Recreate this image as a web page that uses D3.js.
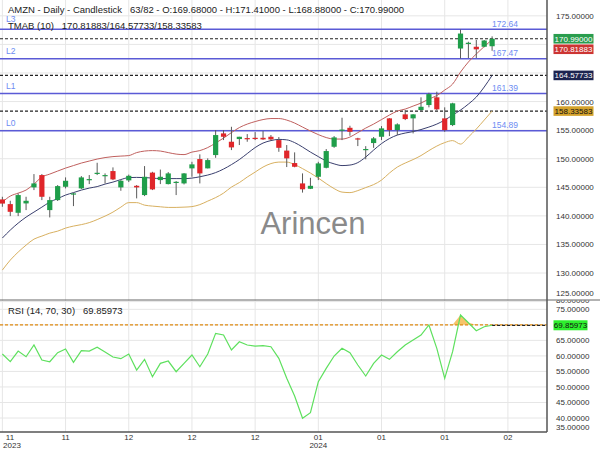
<!DOCTYPE html>
<html>
<head>
<meta charset="utf-8">
<script src="https://cdn.jsdelivr.net/npm/d3@7/dist/d3.min.js"></script>
<style>
  body { margin: 0; background: #fff; }
  text { font-family: "Liberation Sans", Arial, sans-serif; white-space: pre; }
</style>
</head>
<body>
<script>
// daily candles, index 0 = 2023-11-08
var opens  = [142.88,142.06,140.54,142.18,144.98,147.14,141.01,142.76,145.09,143.81,144.81,146.35,147.43,146.96,147.84,144.98,146.21,145.26,143.64,147.57,146.26,145.56,145.86,145.68,148.31,149.94,148.31,150.64,154.43,152.97,153.44,153.61,153.66,153.66,153.84,153.26,151.42,149.24,145.68,144.74,146.84,148.41,152.09,154.93,155.41,153.56,151.50,152.74,153.84,157.06,155.01,157.76,157.06,158.51,159.39,160.74,157.06,155.89,169.28,170.07,169.59,169.59,169.68];
var highs  = [143.34,142.64,143.93,143.34,147.31,147.31,143.34,145.39,146.73,144.04,146.96,147.14,149.29,147.43,148.48,146.26,147.22,145.39,148.71,147.71,148.10,147.66,146.09,147.49,149.46,150.76,150.06,155.01,155.01,155.59,153.84,154.31,154.66,154.84,154.14,153.79,152.39,151.11,147.43,146.66,149.46,151.69,153.96,157.17,155.77,153.66,152.20,153.80,155.71,157.10,156.19,158.51,157.80,160.74,161.54,161.72,158.99,159.79,172.60,170.47,170.77,170.77,171.41];
var lows   = [141.59,139.96,139.96,141.01,144.51,142.76,139.73,142.60,144.81,141.71,144.70,145.56,147.14,145.68,146.26,144.39,145.91,143.06,143.46,144.51,145.56,145.50,143.64,145.50,146.84,145.68,148.30,150.16,153.26,151.51,152.39,152.97,153.26,153.30,153.17,151.21,148.54,148.50,144.07,144.69,146.26,148.31,151.91,153.26,154.02,152.21,149.90,151.90,153.26,153.96,154.14,156.76,154.43,158.22,158.99,158.51,154.71,155.71,167.53,167.62,167.62,169.50,168.88];
var closes = [142.15,140.71,143.64,142.64,145.68,143.34,142.76,145.21,146.14,143.93,146.73,146.44,147.54,147.14,146.38,146.14,147.01,144.98,146.84,144.63,146.84,147.43,145.96,147.43,149.01,147.43,149.76,154.14,153.84,151.98,153.84,153.51,153.44,153.38,153.38,151.91,150.06,148.59,144.65,145.26,149.18,151.34,153.73,155.10,154.71,153.38,151.70,153.56,155.31,155.01,156.01,156.94,157.76,159.09,161.31,158.64,155.01,159.69,171.90,170.29,169.14,170.68,170.99];

// TMAB (10) bands
var tmabUpper = [142.41,143.46,143.98,144.51,145.56,146.79,147.31,147.84,148.36,148.80,149.24,149.59,149.94,150.20,150.37,150.46,150.55,151.07,151.34,151.42,151.34,151.07,150.81,150.72,151.16,151.42,151.95,152.74,153.61,154.57,155.45,156.06,156.50,156.85,157.03,157.03,156.76,156.24,155.54,154.84,154.22,153.70,153.44,153.44,153.79,154.57,155.36,156.06,156.85,157.64,158.34,158.69,159.21,159.74,160.44,161.05,162.01,163.06,165.16,166.92,168.32,169.63,170.82];
var tmabMid   = [136.12,137.51,138.73,139.78,140.66,141.53,142.41,143.02,143.64,144.07,144.51,144.86,145.12,145.56,145.91,146.35,146.70,146.73,146.70,146.61,146.52,146.52,146.52,146.52,146.61,146.84,147.14,147.57,148.19,148.97,149.85,150.90,151.95,152.74,153.17,153.38,153.30,152.82,152.04,151.16,150.37,149.59,149.10,148.80,148.89,149.32,150.29,151.51,152.65,153.52,154.14,154.49,154.75,155.10,155.54,156.06,156.76,157.64,158.51,159.56,160.79,162.54,164.58];
var tmabLower = [130.51,132.26,133.66,134.88,135.93,136.46,136.98,137.33,137.86,138.21,138.47,138.82,139.35,139.96,140.66,141.53,142.32,142.32,141.88,141.71,141.59,141.48,141.48,141.53,141.62,141.97,142.58,143.20,143.98,145.04,145.82,146.79,147.66,148.54,149.15,149.41,149.41,148.97,148.27,147.49,146.61,145.65,144.77,144.16,144.07,144.42,144.95,145.47,146.26,147.49,148.54,149.24,149.85,150.55,151.42,152.21,152.82,153.17,152.56,153.79,155.19,156.76,158.34];

// RSI (14, 70, 30)
var rsi = [60.61,58.13,61.57,59.74,63.51,58.68,58.13,61.03,62.22,57.94,61.67,61.57,62.77,61.25,59.64,59.10,60.61,55.46,58.90,53.30,57.61,58.35,54.91,57.61,60.29,56.52,60.61,67.27,66.73,61.90,64.57,63.51,63.18,63.28,62.96,59.22,52.78,47.09,39.91,41.71,51.69,56.00,59.96,62.44,61.03,57.07,53.53,57.61,60.29,58.90,61.35,63.51,65.12,66.73,69.95,62.44,52.78,61.35,73.16,70.69,68.11,69.40,69.86];

var levelNames  = ["L0", "L1", "L2", "L3"];
var levelValues = [154.89, 161.39, 167.47, 172.64];

var tmabLast   = [170.81883, 164.57733, 158.33583];
var dashValues = [170.99, 164.57733, 158.33583];
var boxValues  = [170.99, 170.81883, 164.57733, 158.33583];
var rsiLast = 69.85973;

var tickIdx    = [0, 8, 16, 24, 32, 40, 48, 56, 64];
var tickLabels = ["11", "11", "12", "12", "12", "01", "01", "01", "02"];
var yearIdx    = [0, 40];
var yearLabels = ["2023", "2024"];

var priceTicks = d3.range(125, 180, 5);
var rsiTicks   = d3.range(35, 85, 5);

var W = 600, H = 450, plotR = 547, mainB = 300, rsiB = 432;

var svg = d3.select("body").append("svg").attr("width", W).attr("height", H);

var x  = d3.scaleLinear().domain([-0.3, 68.95]).range([0, plotR]);
var y  = d3.scaleLinear().domain([125.28, 177.77]).range([mainB, 0]);
var yr = d3.scaleLinear().domain([35.5, 78.0]).range([rsiB, mainB]);

var defs = svg.append("defs");
defs.append("clipPath").attr("id", "cm").append("rect").attr("x", 0).attr("y", 0).attr("width", plotR).attr("height", mainB);
defs.append("clipPath").attr("id", "cr").append("rect").attr("x", 0).attr("y", mainB).attr("width", plotR).attr("height", rsiB - mainB);
defs.append("clipPath").attr("id", "clab").append("rect").attr("x", plotR).attr("y", mainB + 0.5).attr("width", W - plotR).attr("height", H);

// grid
var grid = svg.append("g").attr("stroke", "#e6e6e6").attr("stroke-width", 1);
grid.selectAll(".vg").data(tickIdx).enter().append("line")
  .attr("x1", function(d) { return x(d); }).attr("x2", function(d) { return x(d); })
  .attr("y1", 0).attr("y2", rsiB);
grid.selectAll(".hg").data(priceTicks).enter().append("line")
  .attr("x1", 0).attr("x2", plotR)
  .attr("y1", function(d) { return y(d); }).attr("y2", function(d) { return y(d); });
grid.selectAll(".rg").data(rsiTicks.filter(function(d) { return yr(d) > mainB && yr(d) < rsiB; })).enter().append("line")
  .attr("x1", 0).attr("x2", plotR)
  .attr("y1", function(d) { return yr(d); }).attr("y2", function(d) { return yr(d); });

var main = svg.append("g").attr("clip-path", "url(#cm)");

// watermark
main.append("text").attr("x", 313).attr("y", 234).attr("text-anchor", "middle")
  .attr("font-size", 31).attr("fill", "#8a8a8a").text("Arincen");

// levels
main.selectAll(".lv").data(levelValues).enter().append("line")
  .attr("x1", 0).attr("x2", plotR)
  .attr("y1", function(d) { return y(d); }).attr("y2", function(d) { return y(d); })
  .attr("stroke", "#5a5ad6").attr("stroke-width", 1.5);
main.selectAll(".lvn").data(levelNames).enter().append("text")
  .attr("x", 6).attr("y", function(d, i) { return y(levelValues[i]) - (i == 3 ? 7 : 5); })
  .attr("font-size", 8.5).attr("fill", "#6d8cf2").text(function(d) { return d; });
main.selectAll(".lvv").data(levelValues).enter().append("text")
  .attr("x", 492).attr("y", function(d) { return y(d) - 2.5; })
  .attr("font-size", 8.5).attr("fill", "#6d8cf2").text(function(d) { return d.toFixed(2); });

// dashed value lines
main.selectAll(".dl").data(dashValues).enter().append("line")
  .attr("x1", 0).attr("x2", plotR)
  .attr("y1", function(d) { return y(d); }).attr("y2", function(d) { return y(d); })
  .attr("stroke", "#222").attr("stroke-width", 1.2).attr("stroke-dasharray", "3,2");

// bands
function bandLine(arr) {
  return d3.line().x(function(d, i) { return x(i); }).y(function(d) { return y(d); }).curve(d3.curveMonotoneX)(arr);
}
main.append("path").attr("d", bandLine(tmabUpper)).attr("fill", "none").attr("stroke", "#c0605e").attr("stroke-width", 1);
main.append("path").attr("d", bandLine(tmabMid)).attr("fill", "none").attr("stroke", "#3a3f6e").attr("stroke-width", 1);
main.append("path").attr("d", bandLine(tmabLower)).attr("fill", "none").attr("stroke", "#d8b060").attr("stroke-width", 1);

// candles
var candles = main.selectAll(".c").data(closes).enter().append("g");
candles.append("line")
  .attr("x1", function(d, i) { return x(i); }).attr("x2", function(d, i) { return x(i); })
  .attr("y1", function(d, i) { return y(highs[i]); }).attr("y2", function(d, i) { return y(lows[i]); })
  .attr("stroke", "#5a5a5a").attr("stroke-width", 1);
candles.append("rect")
  .attr("x", function(d, i) { return x(i) - 2.6; }).attr("width", 5.2)
  .attr("y", function(d, i) { return y(Math.max(opens[i], d)); })
  .attr("height", function(d, i) { return Math.max(1.2, Math.abs(y(opens[i]) - y(d))); })
  .attr("fill", function(d, i) { return d >= opens[i] ? "#1f9e4a" : "#e0262a"; });

// RSI panel
var rp = svg.append("g").attr("clip-path", "url(#cr)");
var overArea = d3.area().x(function(d, i) { return x(i); })
  .y0(function(d) { return yr(70); })
  .y1(function(d) { return yr(Math.max(70, d)); });
rp.append("path").attr("d", overArea(rsi)).attr("fill", "#f6c46a").attr("stroke", "none");
rp.append("line").attr("x1", 0).attr("x2", plotR).attr("y1", yr(70)).attr("y2", yr(70))
  .attr("stroke", "#e08a10").attr("stroke-width", 1.2).attr("stroke-dasharray", "3,2");
rp.append("line").attr("x1", x(rsi.length - 1)).attr("x2", plotR).attr("y1", yr(rsiLast)).attr("y2", yr(rsiLast))
  .attr("stroke", "#222").attr("stroke-width", 1.2).attr("stroke-dasharray", "3,2");
rp.append("path")
  .attr("d", d3.line().x(function(d, i) { return x(i); }).y(function(d) { return yr(d); })(rsi))
  .attr("fill", "none").attr("stroke", "#5ee05e").attr("stroke-width", 1.2);

// frame
svg.append("line").attr("x1", 0).attr("x2", W).attr("y1", mainB).attr("y2", mainB).attr("stroke", "#666");
svg.append("line").attr("x1", plotR).attr("x2", plotR).attr("y1", 0).attr("y2", rsiB).attr("stroke", "#555").attr("stroke-width", 1.5);
svg.append("line").attr("x1", 0).attr("x2", plotR).attr("y1", rsiB).attr("y2", rsiB).attr("stroke", "#555").attr("stroke-width", 1.5);

// value boxes positions (stacked so they do not collide)
var boxY = [];
var lastY = -100;
boxValues.forEach(function(v) {
  var cy = Math.max(y(v), lastY + 10.5);
  boxY.push(cy);
  lastY = cy;
});
function hidden(py, list) {
  return list.some(function(b) { return Math.abs(b - py) < 9; });
}

// price axis labels (the ones under a value box are covered, as in the original)
var fmt = d3.format(".5f");
svg.selectAll(".pl").data(priceTicks.filter(function(d) { return !hidden(Math.min(y(d), 293), boxY); })).enter().append("text")
  .attr("x", 556).attr("y", function(d) { return Math.min(y(d), 293) + 3; })
  .attr("font-size", 8).attr("fill", "#333").text(function(d) { return fmt(d); });
svg.append("g").attr("clip-path", "url(#clab)").selectAll(".rl")
  .data(rsiTicks.filter(function(d) { return !hidden(yr(d), [yr(rsiLast)]); })).enter().append("text")
  .attr("x", 556).attr("y", function(d) { return Math.max(300, Math.min(yr(d), 427)) + 3; })
  .attr("font-size", 8).attr("fill", "#333").text(function(d) { return fmt(d); });

var boxFill = ["#2a9d4e", "#cc3533", "#1c2450", "#d4a22c"];
var boxText = ["#fff", "#fff", "#fff", "#111"];
boxValues.forEach(function(v, i) {
  var cy = boxY[i];
  svg.append("rect").attr("x", 553.5).attr("y", cy - 4.8).attr("width", 40).attr("height", 9.6).attr("fill", boxFill[i]);
  svg.append("text").attr("x", 573.5).attr("y", cy + 3).attr("text-anchor", "middle")
    .attr("font-size", 8).attr("fill", boxText[i]).text(fmt(v));
});
svg.append("rect").attr("x", 553.5).attr("y", yr(rsiLast) - 5).attr("width", 34).attr("height", 10).attr("fill", "#2ef02e");
svg.append("text").attr("x", 570.5).attr("y", yr(rsiLast) + 3).attr("text-anchor", "middle")
  .attr("font-size", 8).attr("fill", "#111").text(fmt(rsiLast));

// x axis labels
svg.selectAll(".xl").data(tickIdx).enter().append("text")
  .attr("x", function(d) { return Math.max(x(d), 10); }).attr("y", 439.5).attr("text-anchor", "middle")
  .attr("font-size", 8).attr("fill", "#333").text(function(d, i) { return tickLabels[i]; });
svg.selectAll(".yl").data(yearIdx).enter().append("text")
  .attr("x", function(d) { return Math.max(x(d), 12); }).attr("y", 447.5).attr("text-anchor", "middle")
  .attr("font-size", 8).attr("fill", "#333").text(function(d, i) { return yearLabels[i]; });

// headers
svg.append("text").attr("x", 8).attr("y", 12.5).attr("font-size", 9.5).attr("fill", "#222")
  .text("AMZN - Daily - Candlestick   63/82 - O:169.68000 - H:171.41000 - L:168.88000 - C:170.99000");
svg.append("text").attr("x", 8).attr("y", 28.5).attr("font-size", 9.5).attr("fill", "#222")
  .text("TMAB (10)   " + tmabLast.map(fmt).join("/"));
svg.append("text").attr("x", 8).attr("y", 314).attr("font-size", 9.5).attr("fill", "#222")
  .text("RSI (14, 70, 30)   " + fmt(rsiLast));
</script>
</body>
</html>
